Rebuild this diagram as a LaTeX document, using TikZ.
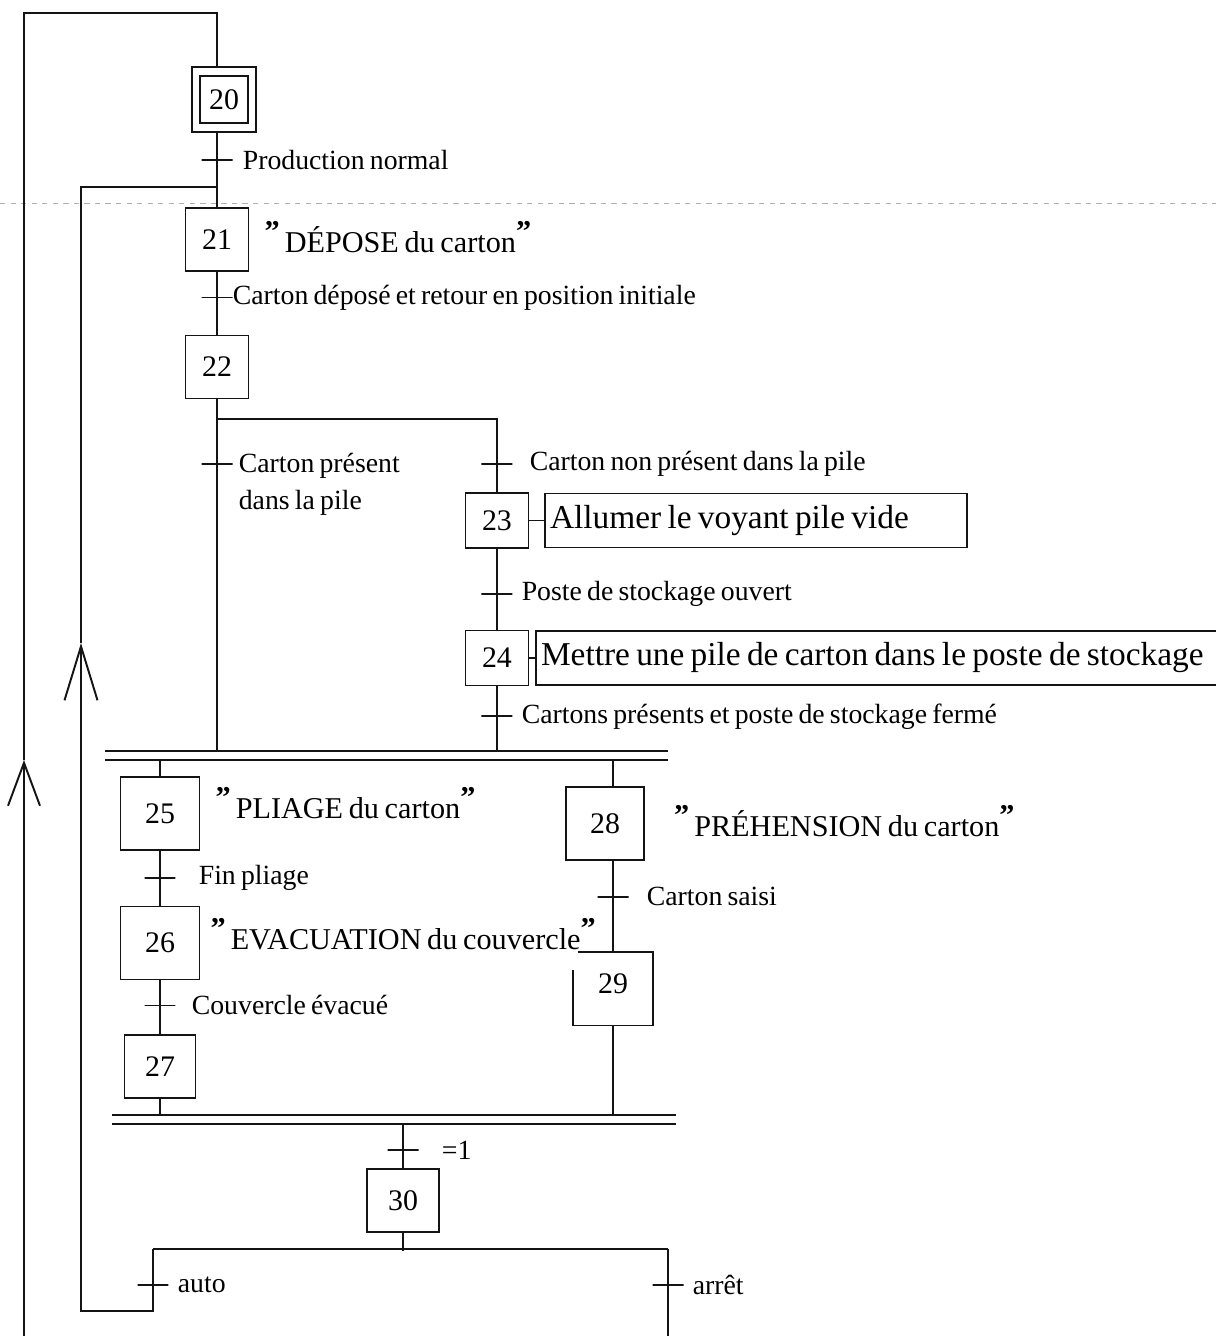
\documentclass[tikz,border=0pt]{standalone}
\usepackage{fontspec}
\setmainfont{Liberation Serif}[WordSpace=0.75]
\usepackage{xcolor}
\definecolor{InkBlack}{RGB}{20,20,20}
\definecolor{ScanGray}{RGB}{175,175,175}
\usepackage{tikz}
\usetikzlibrary{
  arrows.meta,
  positioning, calc
}
\tikzset{
  % Step square
  stepbox/.style={
    rectangle, draw=InkBlack, line width=0.9pt,
    minimum width=1.26cm, minimum height=1.26cm,
    inner sep=0pt,
    font=\fontsize{17}{20}\selectfont
  },
  % Step variants
  stepbox wide/.style={stepbox, minimum width=1.58cm, minimum height=1.46cm},
  stepbox flat/.style={stepbox, minimum height=1.1cm},
  % Transition dash
  trans/.style={
    rectangle, draw=InkBlack, line width=0.9pt,
    minimum width=0.62cm, minimum height=0pt,
    inner sep=0pt, outer sep=0pt
  },
  % Receptivity text
  tlabel/.style={font=\fontsize{15.8}{21}\selectfont, inner sep=0pt, anchor=west},
  % Action in a box
  abox/.style={
    rectangle, draw=InkBlack, line width=0.9pt,
    minimum height=1.08cm, inner sep=0.1cm,
    align=flush left,
    font=\fontsize{19}{22}\selectfont
  },
  % Action between quotes
  aquote/.style={font=\fontsize{17.2}{20}\selectfont, inner sep=0pt, anchor=west},
  % Lines
  link/.style={draw=InkBlack, line width=0.9pt},
  ret/.style={link, -{Straight Barb[length=1.08cm, width=0.66cm, line width=1.1pt]}},
  ret short/.style={link, -{Straight Barb[length=0.86cm, width=0.64cm, line width=1.1pt]}},
  sync/.style={draw=InkBlack, line width=1.1pt},
}
\newcommand{\quoted}[1]{\raisebox{0.8ex}[0pt][0pt]{\bfseries ”}\,#1\raisebox{0.8ex}[0pt][0pt]{\bfseries ”}}

\begin{document}
\begin{tikzpicture}[x=0.02cm, y=-0.02cm]

  \useasboundingbox (0,0) rectangle (1216,1336);

  %% Scan fold
  \draw[ScanGray, dashed, line width=0.4pt] (0,203) -- (1216,203);

  %% Main sequence
  \node[stepbox, line width=1.2pt, minimum width=1.28cm, minimum height=1.3cm]
    (s20) at (224,99.5) {};
  \node[stepbox, minimum width=0.96cm, minimum height=0.94cm] (s20in) at (s20) {20};

  \node[trans, below=0.54cm of s20, xshift=-0.14cm] (t20) {};
  \node[tlabel, right=0.2cm of t20] (l20) {Production normal};

  \node[stepbox, below=0.94cm of t20] (s21) {21};
  \node[aquote, right=0.3cm of s21] (a21) {\quoted{DÉPOSE du carton}};

  \node[trans, below=0.52cm of s21] (t21) {};
  \node[tlabel, right=0cm of t21] (l21) {Carton déposé et retour en position initiale};

  \node[stepbox, below=0.74cm of t21] (s22) {22};
  \coordinate[below=0.4cm of s22] (orA);

  \node[trans, below=1.3cm of s22] (t22a) {};
  \node[tlabel, align=left, anchor=north west]
    (l22a) at ([xshift=0.12cm, yshift=0.22cm]t22a.east) {Carton présent\\dans la pile};

  %% Empty stack branch
  \node[trans, right=4.98cm of t22a] (t22b) {};
  \node[tlabel, right=0.34cm of t22b] (l22b) {Carton non présent dans la pile};

  \node[stepbox flat, below=0.56cm of t22b] (s23) {23};
  \node[abox, text width=8.24cm, right=0.3cm of s23] (a23) {Allumer le voyant pile vide};

  \node[trans, below=0.9cm of s23] (t23) {};
  \node[tlabel, right=0.18cm of t23] (l23) {Poste de stockage ouvert};

  \node[stepbox flat, below=0.72cm of t23] (s24) {24};
  \node[abox, text width=14.6cm, right=0.12cm of s24]
    (a24) {Mettre une pile de carton dans le poste de stockage};

  \node[trans, below=0.6cm of s24] (t24) {};
  \node[tlabel, right=0.18cm of t24] (l24) {Cartons présents et poste de stockage fermé};

  %% Double bars
  \coordinate (barA) at (105,751);
  \coordinate (barB) at (105,760);
  \coordinate (barC) at (112,1115);
  \coordinate (barD) at (112,1124);
  \draw[sync] (barA) -- ++(563,0);
  \draw[sync] (barB) -- ++(563,0);
  \draw[sync] (barC) -- ++(564,0);
  \draw[sync] (barD) -- ++(564,0);

  %% Folding branch
  \node[stepbox wide] (s25) at (160,813.5) {25};
  \node[aquote, right=0.3cm of s25, yshift=0.11cm] (a25) {\quoted{PLIAGE du carton}};

  \node[trans, below=0.54cm of s25] (t25) {};
  \node[tlabel, right=0.46cm of t25] (l25) {Fin pliage};

  \node[stepbox wide, below=0.56cm of t25] (s26) {26};
  \node[aquote, right=0.2cm of s26, yshift=0.07cm] (a26) {\quoted{EVACUATION du couvercle}};

  \node[trans, below=0.5cm of s26] (t26) {};
  \node[tlabel, right=0.32cm of t26] (l26) {Couvercle évacué};

  \node[stepbox, minimum width=1.42cm, below=0.58cm of t26] (s27) {27};

  %% Gripping branch
  \node[stepbox wide, minimum width=1.56cm] (s28) at (605,823.5) {28};
  \node[aquote, right=0.58cm of s28] (a28) {\quoted{PRÉHENSION du carton}};

  \node[trans, below=0.72cm of s28, xshift=0.16cm] (t28) {};
  \node[tlabel, right=0.36cm of t28] (l28) {Carton saisi};

  \node[stepbox wide, minimum height=1.44cm, draw=none, below=1.1cm of t28]
    (s29) {\raisebox{0.2cm}{29}};

  %% End of cycle
  \node[trans] (t30) at (403,1150) {};
  \node[tlabel, right=0.46cm of t30] (l30) {=1};

  \node[stepbox, minimum width=1.44cm, below=0.36cm of t30] (s30) {30};
  \coordinate[below=0.36cm of s30] (div30);
  \coordinate (divL) at (153,1249);
  \coordinate (divR) at (668,1249);

  \node[trans] (tauto) at (153,1285) {};
  \node[tlabel, right=0.18cm of tauto] (lauto) {auto};
  \node[trans] (tarret) at (668,1285) {};
  \node[tlabel, right=0.18cm of tarret] (larret) {arrêt};

  %% Loop points
  \coordinate (bottomL) at (24,1340);
  \coordinate (arrL) at (24,760);
  \coordinate (topA) at (217,13);
  \coordinate (loopB) at (153,1311);
  \coordinate (loopC) at (81,1311);
  \coordinate (arrB) at (81,643);
  \coordinate (joinA) at (217,187);
  \coordinate (bottomR) at (668,1340);

  %% Links
  \draw[ret short] (bottomL) -- (arrL);
  \draw[link] (arrL) |- (topA) -- (s20.north -| t20);
  \draw[link] (s20.south -| t20) -- (t20) -- (s21) -- (t21) -- (s22) -- (t22a) -- (t22a |- barA);
  \draw[link] (orA) -| (t22b) -- (s23) -- (t23) -- (s24) -- (t24) -- (t24 |- barA);
  \draw[link] (s23) -- (a23);
  \draw[link] (s24) -- (a24);

  \draw[link] (s25 |- barB) -- (s25) -- (t25) -- (s26) -- (t26) -- (s27) -- (s27 |- barC);
  \draw[link] (t28 |- barB) -- (t28 |- s28.north);
  \draw[link] (t28 |- s28.south) -- (t28) -- (s29.north);
  \draw[link] ([yshift=-0.36cm]s29.north west) -- (s29.south west) -- (s29.south east)
    -- (s29.north east) -- ([xshift=0.1cm]s29.north west);
  \draw[link] (s29.south) -- (s29 |- barC);

  \draw[link] (t30 |- barD) -- (t30) -- (s30) -- (div30);
  \draw[link] (divL) -- (divR);
  \draw[link] (divL) -- (tauto);
  \draw[ret] (tauto) -- (loopB) -- (loopC) -- (arrB);
  \draw[link] (arrB) |- (joinA);
  \draw[link] (divR) -- (tarret) -- (bottomR);

\end{tikzpicture}
\end{document}
